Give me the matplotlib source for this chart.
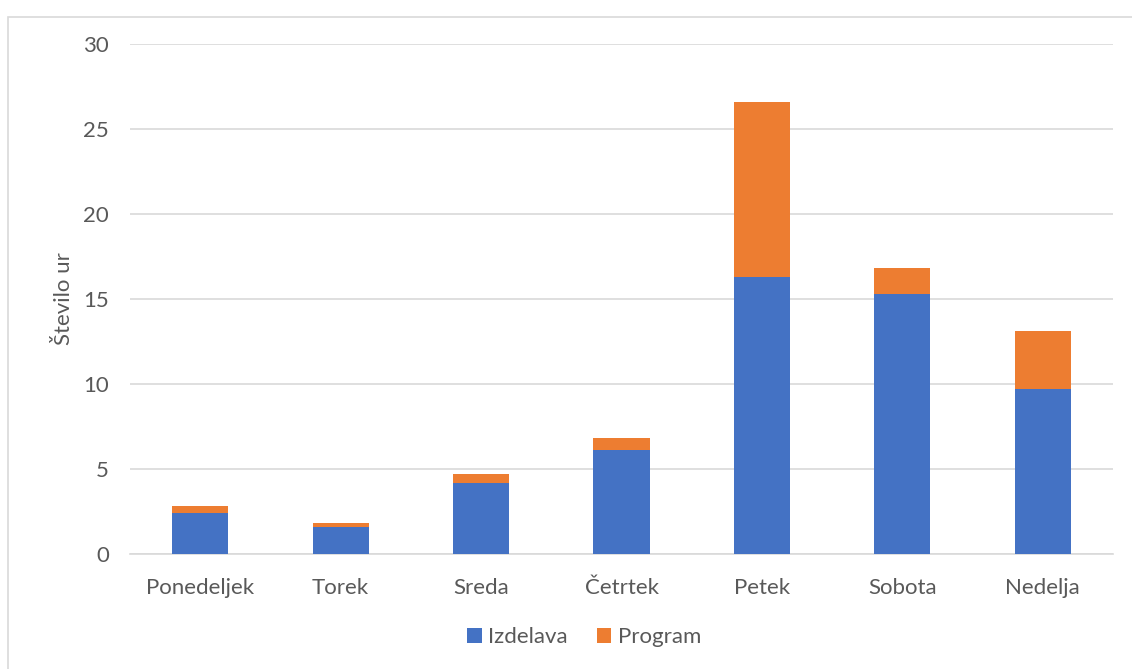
import matplotlib
matplotlib.use("Agg")
import matplotlib.pyplot as plt
from matplotlib.patches import Rectangle

days = ["Ponedeljek", "Torek", "Sreda", "Četrtek", "Petek", "Sobota", "Nedelja"]
izdelava = [2.4, 1.6, 4.2, 6.1, 16.3, 15.3, 9.7]
program = [0.4, 0.2, 0.5, 0.7, 10.3, 1.5, 3.4]
y_ticks = [0, 5, 10, 15, 20, 25, 30]

plt.rcParams['font.family'] = ['Lato', 'DejaVu Sans']

W, H = 1132, 669
fig = plt.figure(figsize=(W / 100, H / 100), dpi=100)
fig.patch.set_facecolor("white")

# chart border (Excel chart area)
fig.add_artist(Rectangle((8 / W, -0.01), 1.2, 1 - 17 / H + 0.01, transform=fig.transFigure,
                         fill=False, edgecolor="#d9d9d9", linewidth=1.2))

left, right, top, bottom = 130, 1113, 44, 554
ax = fig.add_axes([left / W, 1 - bottom / H, (right - left) / W, (bottom - top) / H])

x = list(range(len(days)))
ax.bar(x, izdelava, width=0.4, color="#4472C4", label="Izdelava", zorder=3)
ax.bar(x, program, width=0.4, bottom=izdelava, color="#ED7D31", label="Program", zorder=3)

fs = 16
ax.set_xlim(-0.5, len(days) - 0.5)
ax.set_ylim(0, 30)
ax.set_yticks(y_ticks)
ax.set_xticks(x)
ax.set_xticklabels(days)
ax.yaxis.grid(True, color="#d9d9d9", linewidth=1.2, zorder=0)
for s in ["top", "right", "left"]:
    ax.spines[s].set_visible(False)
ax.spines["bottom"].set_color("#d9d9d9")
ax.spines["bottom"].set_linewidth(1.2)
ax.tick_params(axis="both", length=0, labelsize=fs, colors="#595959")
ax.tick_params(axis="y", pad=15)
ax.tick_params(axis="x", pad=17)
ax.set_ylabel("Število ur", fontsize=fs, color="#595959", labelpad=7)

leg = ax.legend(loc="center", bbox_to_anchor=(0.462, (bottom - 637) / (bottom - top)),
                ncol=2, frameon=False, fontsize=fs, handlelength=0.65, handleheight=0.65,
                handletextpad=0.3, columnspacing=1.3)
for t in leg.get_texts():
    t.set_color("#595959")

fig.savefig("out.png", dpi=100, facecolor="white")
